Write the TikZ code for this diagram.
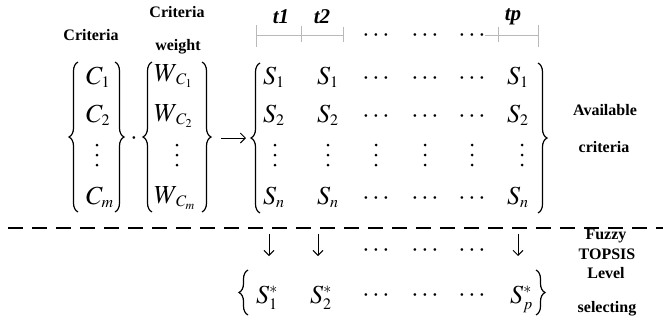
\documentclass[tikz,border=0pt]{standalone}
\usepackage{mathptmx}
\usepackage{fontspec}
\setmainfont{Liberation Serif}
\usetikzlibrary{arrows.meta,decorations.pathreplacing}
\DeclareMathSizes{26}{26}{16}{12}
\definecolor{rulegray}{RGB}{185,185,185}

\begin{document}
\begin{tikzpicture}[x=1pt,y=-1pt,
  lbl/.style={font=\fontsize{16}{18}\selectfont\bfseries,inner sep=0pt},
  hd/.style={font=\fontsize{21}{23}\selectfont\bfseries\itshape,inner sep=0pt},
  ent/.style={font=\fontsize{26}{30}\selectfont,inner sep=0pt,anchor=base west},
  dts/.style={font=\fontsize{26}{30}\selectfont,inner sep=0pt,anchor=base},
  brc/.style={decorate,decoration={brace,amplitude=9pt},line width=1.2pt},
  ruler/.style={rulegray,line width=0.8pt},
  arr/.style={-{Straight Barb[length=5pt,width=10pt]},line width=0.9pt},
  sep/.style={line width=2.6pt,dash pattern=on 15pt off 9pt}]
\useasboundingbox (0,0) rectangle (663,325);
% labels on top
\node[lbl] (crit) at (91,35) {Criteria};
\node[lbl] (critw) at (177,12) {Criteria};
\node[lbl] (wgt) at (178,47) {weight};
\node[hd] (t1) at (281,17) {t1};
\node[hd] (t2) at (322,17) {t2};
\node[hd] (tp) at (513,17) {tp};
% time axis
\draw[ruler] (256,35) -- (343,35) (256,25) -- (256,47) (301,26) -- (301,42) (343,27) -- (343,42);
\draw[ruler] (485,35) -- (538,35) (498,27) -- (498,42) (538,25) -- (538,47);
\foreach \x [count=\i] in {376,425,472} \node[dts] (hh\i) at (\x,41) {$\cdots$};
% criteria
\draw[brc] (78,212) -- (78,62);
\node[ent] (c1) at (86,84) {$C_1$};
\node[ent] (c2) at (86,122) {$C_2$};
\node[ent] (cm) at (86,204) {$C_m$};
\draw[brc] (115,62) -- (115,212);
\node[dts] (dot) at (134,144) {$\cdot$};
% weights
\draw[brc] (152,212) -- (152,62);
\node[ent] (w1) at (154,81) {$W_{\kern3pt C_1}$};
\node[ent] (w2) at (154,121) {$W_{\kern3pt C_2}$};
\node[ent] (wm) at (154,203) {$W_{\kern3pt C_m}$};
\draw[brc] (202,62) -- (202,212);
\coordinate (ra) at (221,138);
\coordinate (rb) at (246,138);
\draw[arr] (ra) -- (rb);
% available criteria matrix
\draw[brc] (260,213) -- (260,63);
\foreach \x/\c in {263/a,317/b,507/p}{
  \node[ent] (s\c1) at (\x,84) {$S_1$};
  \node[ent] (s\c2) at (\x,122) {$S_2$};
  \node[ent] (s\c n) at (\x,204) {$S_n$};
}
\foreach \y [count=\j] in {84,122,204}
  \foreach \x [count=\i] in {376,425,472} \node[dts] (h\j\i) at (\x,\y) {$\cdots$};
% vertical dots of all columns
\foreach \x in {97,177,275,328,376,425,472,522}
  \foreach \d in {-10,0,10} \fill (\x,155+\d) circle (1.5pt);
\draw[brc] (538,63) -- (538,213);
\node[lbl] (avl) at (605,110) {Available};
\node[lbl] (avc) at (604,147) {criteria};
% level line
\draw[sep] (8,228) -- (663,228);
% fuzzy topsis selection
\foreach \x [count=\i] in {269,318,518}{
  \coordinate (da\i) at (\x,234);
  \coordinate (db\i) at (\x,256);
  \draw[arr] (da\i) -- (db\i);
}
\foreach \x [count=\i] in {376,425,472} \node[dts] (g\i) at (\x,256) {$\cdots$};
\draw[brc] (248,315) -- (248,270);
\node[ent] (st1) at (256,303) {$S_1^*$};
\node[ent] (st2) at (310,303) {$S_2^*$};
\foreach \x [count=\i] in {376,425,472} \node[dts] (k\i) at (\x,301) {$\cdots$};
\node[ent] (stp) at (510,303) {$S_p^*$};
\draw[brc] (536,270) -- (536,315);
\node[lbl] (fz) at (606,236) {Fuzzy};
\node[lbl] (tps) at (607,254) {TOPSIS};
\node[lbl] (lvl) at (606,273) {Level};
\node[lbl] (slc) at (607,309) {selecting};
\end{tikzpicture}
\end{document}
